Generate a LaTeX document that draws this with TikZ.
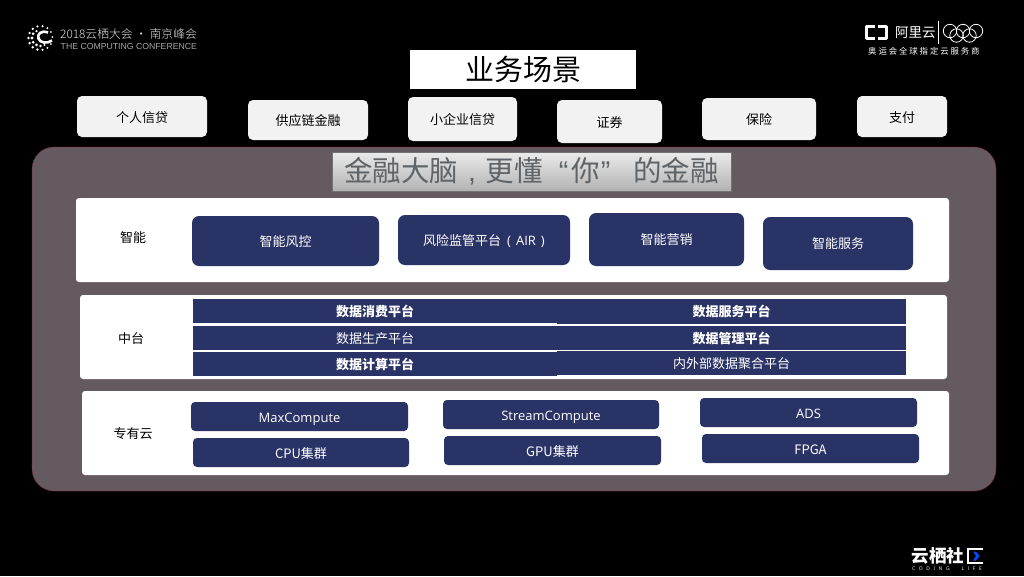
\documentclass[tikz,border=0pt]{standalone}
\usepackage{fontspec}
\setmainfont{Noto Sans CJK SC}
\newfontfamily\latn{Open Sans}
\newfontfamily\arl{Liberation Sans}
\newfontfamily\cjklight{Noto Sans CJK SC}[UprightFont=* Light]
\definecolor{navy}{HTML}{2A3366}
\definecolor{panelc}{HTML}{655A5F}
\definecolor{chip}{HTML}{F2F2F2}
\definecolor{panelrim}{HTML}{8E2438}
\definecolor{bannertext}{HTML}{5F6468}
\tikzset{
 x=1pt,y=-1pt,
 boxat/.style n args={4}{minimum width=#3-#1,minimum height=#4-#2,inner sep=0pt,outer sep=0pt,anchor=center,at={({(#1+#3)/2},{(#2+#4)/2})}},
 lowtext/.style={text height=11pt,text depth=1pt},
 lowertext/.style={text height=11.5pt,text depth=.5pt},
 chipbox/.style={fill=chip,rounded corners=5pt,text=black,lowertext,font=\fontsize{13}{15}\selectfont},
 plane/.style={fill=white,rounded corners=3pt},
 navybig/.style={fill=navy,rounded corners=7pt,text=white,lowtext,font=\fontsize{13}{16}\selectfont},
 navysmall/.style={fill=navy,rounded corners=4pt,text=white,lowertext,font=\fontsize{13}{15}\selectfont},
 bar/.style={fill=navy,text=white,lowtext,font=\fontsize{13}{15}\selectfont},
 barb/.style={bar,font=\fontsize{13}{15}\bfseries\selectfont},
 side/.style={text=black,inner sep=0pt,lowtext,font=\fontsize{13}{15}\selectfont},
 logot/.style={inner sep=0pt,anchor=west,text=white},
}
\begin{document}
\begin{tikzpicture}
\path[use as bounding box,fill=black] (0,0) rectangle (1024,576);
% header left
\foreach \a/\r/\s in {5/12/1.0,30/12/.9,55/12/1.1,80/12/1.2,105/12/1.2,130/12/1.3,155/12/1.3,180/12/1.4,205/12/1.4,230/12/1.4,255/12/1.3,280/12/1.2,305/12/1.1,330/12/1.0,
  120/8/1.3,150/8.5/1.5,180/8.5/1.6,210/8.5/1.6,240/8/1.5,270/8/1.3,300/8/1.1}
  \fill[white] ({40.5+\r*cos(\a)},{38-\r*sin(\a)}) circle (\s);
\draw[white,line width=2.6pt] (48,32.5) .. controls (41,30) and (37,34) .. (38.5,38.5) .. controls (40,43) and (47,44) .. (52,40.5);
\node[logot,text=white!90!black,font=\cjklight\fontsize{11.8}{14}\selectfont] (brand) at (60,33.5) {2018云栖大会 · 南京峰会};
\node[logot,text=white!65!black,font=\arl\fontsize{8.7}{10}\selectfont] (brandsub) at (60.5,47) {THE COMPUTING CONFERENCE};
% header right
\draw[white,line width=3.2pt,line join=round] (875,26.6) -- (866.6,26.6) -- (866.6,38.6) -- (875,38.6);
\draw[white,line width=3.2pt,line join=round] (878,26.6) -- (886.6,26.6) -- (886.6,38.6) -- (878,38.6);
\node[logot,font=\fontsize{13.5}{16}\selectfont] (ali) at (895,33) {阿里云};
\draw[white,line width=.8pt] (938,21) -- (938,44);
\foreach \cx/\cy in {950/31,963/31,976/31,956.5/35.5,969.5/35.5}
  \draw[white,line width=.8pt] (\cx,\cy) circle (6.7);
\node[logot,font=\fontsize{8.4}{10}\selectfont] (aliSub) at (868,51) {奥\hspace{1.9pt}运\hspace{1.9pt}会\hspace{1.9pt}全\hspace{1.9pt}球\hspace{1.9pt}指\hspace{1.9pt}定\hspace{1.9pt}云\hspace{1.9pt}服\hspace{1.9pt}务\hspace{1.9pt}商};
% footer logo
\node[logot,font=\fontsize{17.5}{20}\bfseries\selectfont] (yq) at (911.5,556) {云栖社};
\draw[white,line width=1.5pt] (982.5,549) -- (968,549) -- (968,563) -- (982.5,563);
\fill[blue!70!cyan] (973,551.5) -- (976,551.5) -- (979.5,556) -- (976,560.5) -- (973,560.5) -- (976,556) -- cycle;
\node[logot,font=\latn\fontsize{5}{6}\selectfont] (yqs) at (912,568.5) {C\hspace{3.6pt}O\hspace{3.6pt}D\hspace{3.6pt}I\hspace{3.6pt}N\hspace{3.6pt}G\hspace{12pt}L\hspace{3.6pt}I\hspace{3.6pt}F\hspace{3.6pt}E};
% title
\node[fill=white,boxat={410}{50}{636}{89},text=black,font=\fontsize{29}{32}\selectfont] (title) {业务场景};
% top chips
\node[chipbox,boxat={77}{96}{207}{137}] (c1) {个人信贷};
\node[chipbox,boxat={248}{100}{368}{140}] (c2) {供应链金融};
\node[chipbox,boxat={408}{97}{517}{141}] (c3) {小企业信贷};
\node[chipbox,boxat={557}{100}{662}{143}] (c4) {证券};
\node[chipbox,boxat={702}{98}{816}{140}] (c5) {保险};
\node[chipbox,boxat={857}{96}{947}{137}] (c6) {支付};
% main panel
\node[fill=panelc,draw=panelrim,dash pattern=on .7pt off .9pt,line width=.6pt,rounded corners=22pt,boxat={32}{147}{996}{491}] (panel) {};
% banner
\node[top color=white!92!black,bottom color=white!70!black,draw=black!55,line width=.5pt,boxat={332}{152}{731}{191},text=bannertext,font=\fontsize{28.5}{32}\selectfont] (banner) {\raisebox{-4pt}{金融大脑{\arl\hspace{10pt},\hspace{10pt}}更懂{\arl\hspace{16pt}“\hspace{3pt}}你{\arl\hspace{1pt}”\hspace{23pt}}的金融}};
% planes
\node[plane,boxat={76}{198}{949}{282}] (p1) {};
\node[plane,boxat={80}{295}{947}{379}] (p2) {};
\node[plane,boxat={82}{391}{949}{475}] (p3) {};
\node[side] (l1) at (133,237) {智能};
\node[side] (l2) at (131,338) {中台};
\node[side] (l3) at (133,433) {专有云};
% row 1
\node[navybig,boxat={192}{216}{379}{266}] (a1) {智能风控};
\node[navybig,boxat={398}{215}{570}{265}] (a2) {风险监管平台{\latn\hspace{6pt}(\hspace{5pt}AIR\hspace{5pt})}};
\node[navybig,boxat={589}{213}{744}{266}] (a3) {智能营销};
\node[navybig,boxat={763}{217}{913}{270}] (a4) {智能服务};
% row 2
\node[barb,boxat={193}{299}{557}{323}] (b1) {数据消费平台};
\node[bar,boxat={193}{326}{557}{350}] (b2) {数据生产平台};
\node[barb,boxat={193}{352}{557}{376}] (b3) {数据计算平台};
\node[barb,boxat={557}{299}{906}{323.5}] (b4) {数据服务平台};
\node[barb,boxat={557}{326}{906}{350}] (b5) {数据管理平台};
\node[bar,boxat={557}{351}{906}{375}] (b6) {内外部数据聚合平台};
% row 3
\node[navysmall,boxat={191}{402}{408}{431}] (d1) {{\latn MaxCompute}};
\node[navysmall,boxat={193}{438}{409}{467}] (d2) {CPU集群};
\node[navysmall,boxat={443}{400}{659}{429}] (d3) {{\latn StreamCompute}};
\node[navysmall,boxat={444}{436}{661}{465}] (d4) {GPU集群};
\node[navysmall,boxat={700}{398}{917}{427}] (d5) {{\latn ADS}};
\node[navysmall,boxat={702}{434}{919}{463}] (d6) {FPGA};
\end{tikzpicture}
\end{document}
